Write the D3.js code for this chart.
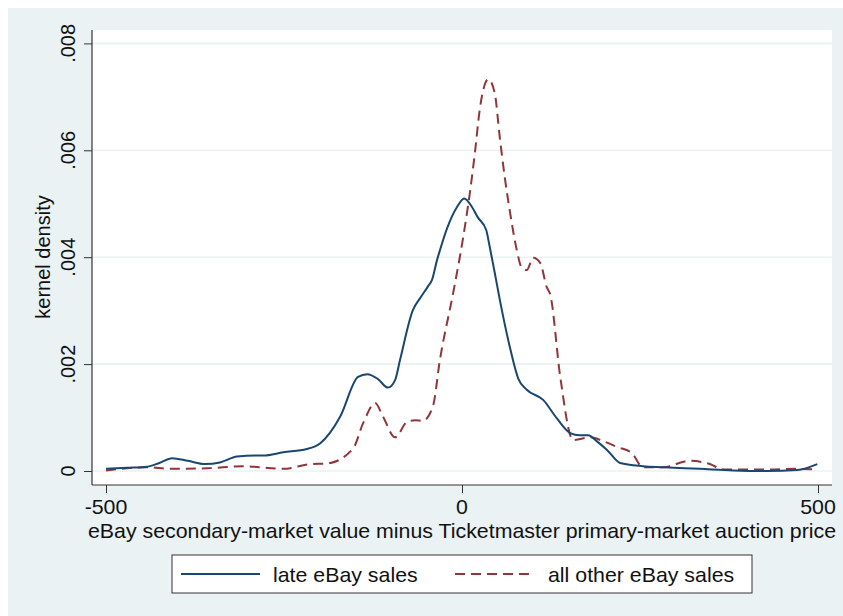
<!DOCTYPE html>
<html>
<head>
<meta charset="utf-8">
<script src="https://cdn.jsdelivr.net/npm/d3@7"></script>
<style>
  body { margin: 0; background: #fff; }
  text { font-family: "Liberation Sans", Arial, Helvetica, sans-serif; fill: #111; }
</style>
</head>
<body>
<div id="chart"></div>
<script>
// x ticks and y ticks (density)
const xTicks = [-500, 0, 500];
const yTicks = [0, 0.002, 0.004, 0.006, 0.008];

// late eBay sales (solid navy)
const lateX = [-500, -470, -442, -425, -407, -385, -361, -340, -316, -290, -279, -251, -218, -199, -171, -146, -133, -118, -104, -94, -87, -69, -59, -48, -42, -35, -31, -21, -7, 3, 14, 22, 34, 39, 46, 53, 67, 79, 91, 114, 133, 152, 165, 177, 190, 204, 222, 254, 282, 334, 381, 428, 471, 499];
const lateY = [0.00004, 0.00006, 0.00008, 0.00015, 0.00024, 0.00019, 0.00013, 0.00016, 0.00027, 0.00029, 0.00029, 0.00035, 0.00041, 0.00052, 0.00102, 0.00176, 0.00181, 0.00172, 0.00156, 0.00170, 0.00208, 0.00301, 0.00323, 0.00345, 0.00358, 0.00395, 0.00413, 0.00454, 0.00494, 0.00510, 0.00494, 0.00475, 0.00451, 0.00419, 0.00371, 0.00321, 0.00233, 0.00173, 0.00152, 0.00133, 0.00099, 0.00071, 0.00067, 0.00067, 0.00055, 0.00039, 0.00015, 0.00009, 0.00007, 0.00004, 0.00001, 0.0, 0.00002, 0.00013];

// all other eBay sales (dashed maroon)
const otherX = [-500, -442, -410, -358, -308, -251, -213, -190, -153, -139, -122, -111, -94, -77, -66, -55, -41, -31, -12, 1, 11, 18, 25, 37, 46, 53, 60, 67, 77, 84, 91, 100, 110, 119, 124, 138, 156, 180, 200, 218, 239, 254, 282, 320, 348, 367, 428, 471, 499];
const otherY = [0.00001, 0.00007, 0.00004, 0.00005, 0.00009, 0.00004, 0.00013, 0.00014, 0.00042, 0.00089, 0.00127, 0.00102, 0.00063, 0.00092, 0.00095, 0.00094, 0.00120, 0.00208, 0.00336, 0.00432, 0.00520, 0.00594, 0.00677, 0.00733, 0.00707, 0.00625, 0.00550, 0.00488, 0.00413, 0.00380, 0.00376, 0.00399, 0.00389, 0.00344, 0.00330, 0.00176, 0.00058, 0.00063, 0.00055, 0.00045, 0.00033, 0.00007, 0.00007, 0.00019, 0.00013, 0.00003, 0.00003, 0.00004, 0.00003];

const seriesNames = ["late eBay sales", "all other eBay sales"];

const W = 843, H = 616;
const plot = {left: 92, top: 30, right: 832, bottom: 485};
const stretch = 1.067; // the reference type is a touch wider than Liberation Sans

let svg = d3.select("#chart").append("svg")
  .attr("width", W)
  .attr("height", H);

// Stata style graph background
svg.append("rect")
  .attr("x", 8).attr("y", 8)
  .attr("width", W - 8).attr("height", H - 8)
  .style("fill", "#eaf2f3");

// Plot region
svg.append("rect")
  .attr("x", plot.left).attr("y", plot.top)
  .attr("width", plot.right - plot.left).attr("height", plot.bottom - plot.top)
  .style("fill", "#fff");

let x = d3.scaleLinear().domain([-500, 500]).range([106, 818]);
let y = d3.scaleLinear().domain([0, 0.008]).range([471, 43.4]);

let fmt = function (d) {
  return d === 0 ? "0" : d3.format(".3f")(d).replace(/^0/, "");
};

// horizontal text helper, slightly stretched
function hText(sel, tx, ty, anchor, str) {
  return sel.append("text")
    .attr("transform", "translate(" + tx + "," + ty + ") scale(" + stretch + ",1)")
    .attr("text-anchor", anchor)
    .style("font-size", "20px")
    .text(str);
}

// Horizontal grid lines
svg.append("g").selectAll("line")
  .data(yTicks)
  .enter().append("line")
  .attr("x1", plot.left).attr("x2", plot.right)
  .attr("y1", d => y(d)).attr("y2", d => y(d))
  .style("stroke", "#eaf2f3")
  .style("stroke-width", "1.6px");

// Y axis
let yAxis = svg.append("g")
  .attr("transform", "translate(" + plot.left + ",0)")
  .call(d3.axisLeft(y).tickValues(yTicks).tickSize(8).tickFormat(""));
yAxis.select(".domain").remove();
yAxis.selectAll(".tick line").style("stroke", "#333");
yAxis.append("line")
  .attr("x1", 0).attr("x2", 0)
  .attr("y1", plot.top).attr("y2", plot.bottom)
  .style("stroke", "#333").style("stroke-width", "1.2px");

svg.append("g").selectAll("text")
  .data(yTicks)
  .enter().append("text")
  .attr("transform", d => "translate(75," + y(d) + ") rotate(-90)")
  .attr("text-anchor", "middle")
  .style("font-size", "20px")
  .text(fmt);

// X axis
let xAxis = svg.append("g")
  .attr("transform", "translate(0," + plot.bottom + ")")
  .call(d3.axisBottom(x).tickValues(xTicks).tickSize(8).tickFormat(""));
xAxis.select(".domain").remove();
xAxis.selectAll(".tick line").style("stroke", "#333");
xAxis.append("line")
  .attr("x1", plot.left).attr("x2", plot.right)
  .attr("y1", 0).attr("y2", 0)
  .style("stroke", "#333").style("stroke-width", "1.2px");

let xLabels = svg.append("g");
xTicks.forEach(function (d) {
  hText(xLabels, x(d), 514, "middle", d);
});

// Axis titles
hText(svg, 462, 538, "middle", "eBay secondary-market value minus Ticketmaster primary-market auction price");

svg.append("text")
  .attr("transform", "translate(50,257) rotate(-90)")
  .attr("text-anchor", "middle")
  .style("font-size", "20px")
  .text("kernel density");

// Curves
let line = d3.line()
  .x(d => x(d[0]))
  .y(d => y(d[1]))
  .curve(d3.curveMonotoneX);

let lateData = lateX.map((v, i) => [v, lateY[i]]);
let otherData = otherX.map((v, i) => [v, otherY[i]]);

svg.append("path")
  .datum(otherData)
  .attr("d", line)
  .style("fill", "none")
  .style("stroke", "#90353b")
  .style("stroke-width", "2px")
  .style("stroke-dasharray", "10,6");

svg.append("path")
  .datum(lateData)
  .attr("d", line)
  .style("fill", "none")
  .style("stroke", "#1a476f")
  .style("stroke-width", "2px");

// Legend
let legend = svg.append("g");
legend.append("rect")
  .attr("x", 172).attr("y", 555)
  .attr("width", 580).attr("height", 38)
  .style("fill", "#fff")
  .style("stroke", "#333")
  .style("stroke-width", "1px");

legend.append("line")
  .attr("x1", 181).attr("x2", 260)
  .attr("y1", 574).attr("y2", 574)
  .style("stroke", "#1a476f").style("stroke-width", "2px");
hText(legend, 273, 582, "start", seriesNames[0]);

legend.append("line")
  .attr("x1", 455).attr("x2", 535)
  .attr("y1", 574).attr("y2", 574)
  .style("stroke", "#90353b").style("stroke-width", "2px")
  .style("stroke-dasharray", "10,6");
hText(legend, 548, 582, "start", seriesNames[1]);
</script>
</body>
</html>
